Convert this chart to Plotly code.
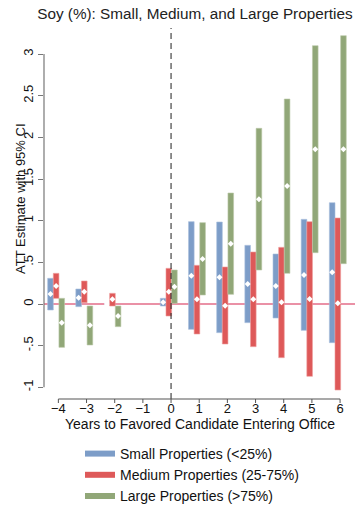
import plotly.graph_objects as go

# Event-time (years relative to the favored candidate entering office)
years = [-4, -3, -2, 0, 1, 2, 3, 4, 5, 6]

# ATT point estimates and 95% confidence bounds by property size
small_est = [0.12, 0.076, 0.0, 0.02, 0.34, 0.32, 0.24, 0.216, 0.348, 0.38]
small_lo = [-0.072, -0.032, 0.0, -0.024, -0.304, -0.344, -0.224, -0.168, -0.316, -0.464]
small_hi = [0.308, 0.18, 0.0, 0.068, 0.988, 0.984, 0.704, 0.60, 1.016, 1.216]

medium_est = [0.216, 0.148, 0.056, 0.148, 0.056, -0.02, 0.056, 0.02, 0.06, 0.008]
medium_lo = [0.068, 0.016, -0.024, -0.144, -0.36, -0.48, -0.512, -0.644, -0.868, -1.032]
medium_hi = [0.368, 0.276, 0.128, 0.428, 0.464, 0.444, 0.624, 0.68, 0.988, 1.032]

large_est = [-0.224, -0.256, -0.144, 0.208, 0.54, 0.724, 1.256, 1.416, 1.856, 1.856]
large_lo = [-0.52, -0.492, -0.272, 0.008, 0.108, 0.116, 0.408, 0.368, 0.616, 0.484]
large_hi = [0.068, -0.024, -0.024, 0.408, 0.976, 1.332, 2.108, 2.46, 3.10, 3.22]

y_ticks = [-1, -0.5, 0, 0.5, 1, 1.5, 2, 2.5, 3]
y_tick_text = ["-1", "-.5", "0", ".5", "1", "1.5", "2", "2.5", "3"]
x_ticks = [-4, -3, -2, -1, 0, 1, 2, 3, 4, 5, 6]

series = [
    ("Small Properties (<25%)", small_est, small_lo, small_hi, -0.28, "#7D9DC8", "#A9BFDD"),
    ("Medium Properties (25-75%)", medium_est, medium_lo, medium_hi, -0.08, "#DE5959", "#EE9C9C"),
    ("Large Properties (>75%)", large_est, large_lo, large_hi, 0.12, "#91A778", "#BCCAA9"),
]

FONT = "Liberation Sans, Arial, sans-serif"
BAR_W = 0.2
PLOT_H = 371  # plot-area height in px (top 28, bottom 399)

fig = go.Figure()

# CI bars
for name, est, lo, hi, off, col, edge in series:
    fig.add_trace(go.Bar(
        x=[t + off for t in years],
        y=[h - l for l, h in zip(lo, hi)],
        base=lo,
        width=BAR_W,
        marker=dict(color=col, line=dict(color=edge, width=0.6)),
        showlegend=False,
        hoverinfo="skip",
    ))

# point estimates
for name, est, lo, hi, off, col, edge in series:
    fig.add_trace(go.Scatter(
        x=[t + off for t in years],
        y=est,
        mode="markers",
        marker=dict(symbol="diamond", size=4.6, color="white", line=dict(width=0)),
        showlegend=False,
        hoverinfo="skip",
    ))

# legend keys
for i, (name, est, lo, hi, off, col, edge) in enumerate(series):
    fig.add_trace(go.Scatter(
        x=[None], y=[None],
        mode="lines",
        line=dict(color=col, width=6),
        name=name,
        legendgroup=f"g{i}",
        showlegend=True,
    ))

X_RANGE = [-4.51, 6.53]
Y_RANGE = [-1.14, 3.312]

shapes = [
    # zero reference line
    dict(type="line", xref="paper", x0=0, x1=1, yref="y", y0=0, y1=0,
         line=dict(color="#D6254F", width=1.2), layer="below"),
    # treatment onset
    dict(type="line", xref="x", x0=0, x1=0, yref="paper", y0=0, y1=1,
         line=dict(color="#333333", width=1.1, dash="6px,4px"), layer="above"),
    # axis lines over the tick span
    dict(type="line", xref="x", x0=x_ticks[0], x1=x_ticks[-1], yref="paper", y0=0, y1=0,
         line=dict(color="#555555", width=1.2)),
    dict(type="line", xref="paper", x0=0, x1=0, yref="y", y0=y_ticks[0], y1=y_ticks[-1],
         line=dict(color="#777777", width=1.2)),
]
# x tick marks (drawn as shapes so the labels can sit close to the axis)
for t in x_ticks:
    shapes.append(dict(type="line", xref="x", x0=t, x1=t, yref="paper",
                       y0=0, y1=-4 / PLOT_H, line=dict(color="#555555", width=1)))

fig.update_layout(
    width=363, height=505,
    margin=dict(l=44, r=8, t=28, b=106, autoexpand=False),
    paper_bgcolor="white", plot_bgcolor="white",
    font=dict(family=FONT, size=13, color="#111111"),
    barmode="overlay",
    title=dict(text="Soy (%): Small, Medium, and Large Properties",
               x=0.537, xanchor="center", xref="container",
               y=1 - 14 / 505, yanchor="middle", yref="container",
               font=dict(family=FONT, size=15.3, color="#222222")),
    xaxis=dict(range=X_RANGE, tickmode="array", tickvals=x_ticks,
               showgrid=False, zeroline=False, showline=False,
               ticks="", tickfont=dict(size=13)),
    yaxis=dict(range=Y_RANGE, tickmode="array", tickvals=y_ticks, ticktext=y_tick_text,
               showgrid=False, zeroline=False, showline=False,
               ticks="outside", ticklen=5, tickwidth=1, tickcolor="#777777",
               tickangle=-90, tickfont=dict(size=13)),
    shapes=shapes,
    annotations=[
        dict(text="ATT Estimate with 95% CI", textangle=-90,
             xref="paper", x=(20 - 44) / 311, xanchor="center",
             yref="paper", y=(399 - 199) / PLOT_H, yanchor="middle",
             showarrow=False, font=dict(family=FONT, size=13, color="#111111")),
        dict(text="Years to Favored Candidate Entering Office",
             xref="paper", x=0.5, xanchor="center",
             yref="paper", y=(399 - 424) / PLOT_H, yanchor="middle",
             showarrow=False, font=dict(family=FONT, size=14, color="#111111")),
    ],
    legend=dict(x=(80 - 44) / 311, xanchor="left", y=(399 - 438) / PLOT_H, yanchor="top",
                orientation="v", tracegroupgap=0, bgcolor="rgba(0,0,0,0)",
                font=dict(size=14)),
)

fig.write_html("out.html")
